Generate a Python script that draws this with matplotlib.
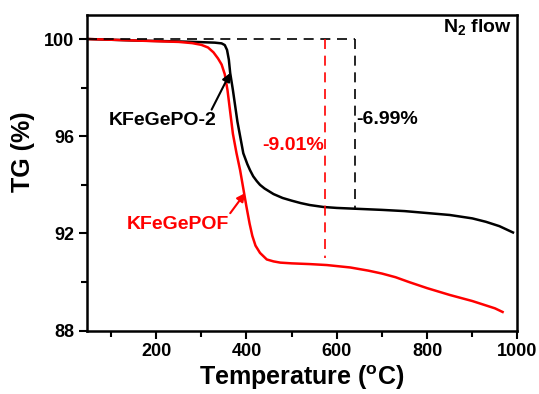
import matplotlib
matplotlib.use('Agg')
import matplotlib.pyplot as plt
from matplotlib.ticker import MultipleLocator

plt.rcParams['font.family'] = 'Liberation Sans'
plt.rcParams['font.weight'] = 'bold'
plt.rcParams['mathtext.fontset'] = 'custom'
plt.rcParams['mathtext.rm'] = 'Liberation Sans:bold'
plt.rcParams['mathtext.bf'] = 'Liberation Sans:bold'

### TG data under N2 flow ###
t_po2 = [47, 100, 150, 200, 250, 300, 330, 345, 352, 357, 361, 364, 370, 380, 393, 402, 408, 415,
         423, 430, 440, 460, 480, 500, 520, 540, 570, 600, 650, 700, 750, 800, 850, 900, 930, 960, 990]
tg_po2 = [100.0, 99.97, 99.94, 99.92, 99.9, 99.87, 99.85, 99.82, 99.75, 99.55, 99.15, 98.6, 97.9,
          96.6, 95.3, 94.85, 94.6, 94.35, 94.15, 94.0, 93.85, 93.62, 93.46, 93.35, 93.25, 93.17,
          93.09, 93.05, 93.01, 92.97, 92.92, 92.84, 92.76, 92.62, 92.48, 92.3, 92.04]

t_pof = [47, 100, 150, 200, 250, 280, 300, 315, 327, 337, 345, 352, 358, 364, 370, 378, 386, 393,
         400, 407, 413, 420, 430, 445, 460, 475, 500, 540, 578, 630, 670, 700, 730, 760, 800, 850,
         900, 950, 967]
tg_pof = [100.0, 99.97, 99.94, 99.91, 99.88, 99.83, 99.76, 99.65, 99.45, 99.2, 98.95, 98.55, 97.9,
          97.0, 96.1, 95.3, 94.6, 93.85, 93.1, 92.4, 91.9, 91.5, 91.2, 90.93, 90.85, 90.8, 90.77,
          90.74, 90.7, 90.6, 90.47, 90.35, 90.2, 90.0, 89.75, 89.47, 89.22, 88.92, 88.77]

# weight loss markers: (temperature, loss %)
loss_po2 = (640, 6.99)
loss_pof = (573, 9.01)


fig = plt.figure(figsize=(5.39, 3.94), dpi=100)
ax = fig.add_axes([0.1614, 0.1607, 0.9601 - 0.1614, 0.9627 - 0.1607])

ax.plot(t_po2, tg_po2, color='black', lw=1.8)
ax.plot(t_pof, tg_pof, color='red', lw=1.8)

# dashed guide lines from 100 %
ax.plot([47, loss_po2[0]], [100, 100], color='black', lw=1.2, ls=(0, (6, 4)))
ax.plot([loss_po2[0], loss_po2[0]], [100, 100 - loss_po2[1]], color='black', lw=1.2, ls=(0, (6, 4)))
ax.plot([loss_pof[0], loss_pof[0]], [100, 100 - loss_pof[1]], color='red', lw=1.2, ls=(0, (6, 4)))

ax.text(loss_po2[0] + 2, 96.69, '-%.2f%%' % loss_po2[1], color='black', fontsize=14,
        fontweight='bold', ha='left', va='center')
ax.text(loss_pof[0] - 2, 95.62, '-%.2f%%' % loss_pof[1], color='red', fontsize=14,
        fontweight='bold', ha='right', va='center')

ax.annotate('KFeGePO-2', xy=(364, 98.6), xytext=(96, 96.63), color='black', fontsize=14,
            fontweight='bold', va='center', ha='left',
            arrowprops=dict(arrowstyle='-|>', color='black', lw=1.5, mutation_scale=12,
                            shrinkA=0, shrinkB=0, relpos=(0.93, 0.9)))
ax.annotate('KFeGePOF', xy=(397, 93.66), xytext=(136, 92.37), color='red', fontsize=14,
            fontweight='bold', va='center', ha='left',
            arrowprops=dict(arrowstyle='-|>', color='red', lw=1.5, mutation_scale=12,
                            shrinkA=0, shrinkB=0, relpos=(0.98, 0.95)))

ax.text(988, 100.45, r'N$_{\mathbf{2}}$ flow', fontsize=14, fontweight='bold',
        ha='right', va='center')

ax.set_xlim(47, 1000)
ax.set_ylim(88, 101)
ax.xaxis.set_major_locator(MultipleLocator(200))
ax.xaxis.set_minor_locator(MultipleLocator(100))
ax.yaxis.set_major_locator(MultipleLocator(4))
ax.yaxis.set_minor_locator(MultipleLocator(2))
ax.tick_params(which='both', direction='out', top=False, right=False, width=1.5, labelsize=13)
ax.tick_params(which='major', length=5.5)
ax.tick_params(which='minor', length=4)
for s in ax.spines.values():
    s.set_linewidth(1.8)

ax.set_xlabel(r'Temperature ($^{\mathrm{o}}$C)', fontsize=18, fontweight='bold')
ax.set_ylabel('TG (%)', fontsize=18, fontweight='bold')
ax.xaxis.set_label_coords(0.5, -0.105)
ax.yaxis.set_label_coords(-0.12, 0.566)

fig.savefig('out.png', dpi=100)
